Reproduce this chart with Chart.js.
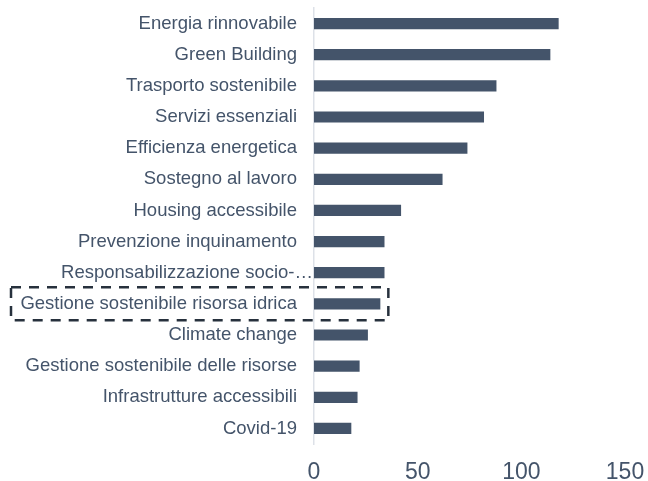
<!DOCTYPE html>
<html>
<head>
<meta charset="utf-8">
<script src="https://cdn.jsdelivr.net/npm/chart.js@4.4.0/dist/chart.umd.min.js"></script>
<style>
  html, body { margin: 0; padding: 0; background: #fff; }
  #wrap { width: 648px; height: 481px; }
</style>
</head>
<body>
<div id="wrap"><canvas id="barChart" width="648" height="481"></canvas></div>
<script>
// data
const categories = [
  'Energia rinnovabile',
  'Green Building',
  'Trasporto sostenibile',
  'Servizi essenziali',
  'Efficienza energetica',
  'Sostegno al lavoro',
  'Housing accessibile',
  'Prevenzione inquinamento',
  'Responsabilizzazione socio-…',
  'Gestione sostenibile risorsa idrica',
  'Climate change',
  'Gestione sostenibile delle risorse',
  'Infrastrutture accessibili',
  'Covid-19'
];
const values = [118, 114, 88, 82, 74, 62, 42, 34, 34, 32, 26, 22, 21, 18];
const xTicks = [0, 50, 100, 150];
const highlighted = 'Gestione sostenibile risorsa idrica';

const textColor = '#44546a';
const labelFont = { family: 'Liberation Sans, Arial, sans-serif', size: 18.5 };

// the truncated label runs up to the axis in the original, draw it separately
const isTruncated = (label) => label.endsWith('…');

const overflowLabel = {
  id: 'overflowLabel',
  afterDraw(chart) {
    const yScale = chart.scales.y;
    const ctx = chart.ctx;
    ctx.save();
    ctx.fillStyle = textColor;
    ctx.font = labelFont.size + 'px ' + labelFont.family;
    ctx.textAlign = 'right';
    ctx.textBaseline = 'middle';
    categories.forEach((label, i) => {
      if (isTruncated(label)) ctx.fillText(label, yScale.right - 1, yScale.getPixelForValue(i));
    });
    ctx.restore();
  }
};

// dashed box round the highlighted row
const highlightBox = {
  id: 'highlightBox',
  afterDraw(chart) {
    const idx = categories.indexOf(highlighted);
    const y = chart.scales.y.getPixelForValue(idx);
    const xRight = chart.scales.x.getPixelForValue(values[idx]) + 8;
    const ctx = chart.ctx;
    ctx.save();
    ctx.strokeStyle = '#27313d';
    ctx.lineWidth = 2.5;
    ctx.setLineDash([10, 8]);
    ctx.strokeRect(11, y - 16.5, xRight - 11, 33);
    ctx.restore();
  }
};

const ctxBar = document.getElementById('barChart').getContext('2d');
new Chart(ctxBar, {
  type: 'bar',
  data: {
    labels: categories,
    datasets: [{
      data: values,
      backgroundColor: '#44546a',
      barPercentage: 0.36,
      categoryPercentage: 1
    }]
  },
  options: {
    indexAxis: 'y',
    responsive: false,
    animation: false,
    layout: { padding: { top: 8, right: 23, bottom: 0, left: 0 } },
    plugins: {
      legend: { display: false },
      tooltip: { enabled: false }
    },
    scales: {
      x: {
        min: 0,
        max: 150,
        afterBuildTicks: (scale) => { scale.ticks = xTicks.map(v => ({ value: v })); },
        afterFit: (scale) => {
          scale.height = 37;
          scale.paddingLeft = 0;
          scale.paddingRight = 0;
        },
        grid: { display: false, drawTicks: false },
        border: { display: false },
        ticks: {
          color: textColor,
          padding: 17,
          maxRotation: 0,
          font: { family: 'Liberation Sans, Arial, sans-serif', size: 23, lineHeight: 1 }
        }
      },
      y: {
        afterFit: (scale) => {
          scale.width = 314;
          scale.paddingTop = 0;
          scale.paddingBottom = 0;
        },
        grid: { display: false, drawTicks: false },
        border: { display: true, color: '#dde1e8', width: 1.5 },
        ticks: {
          color: textColor,
          padding: 17,
          autoSkip: false,
          font: labelFont,
          callback: function (value) {
            const label = this.getLabelForValue(value);
            return isTruncated(label) ? '' : label;
          }
        }
      }
    }
  },
  plugins: [highlightBox, overflowLabel]
});
</script>
</body>
</html>
